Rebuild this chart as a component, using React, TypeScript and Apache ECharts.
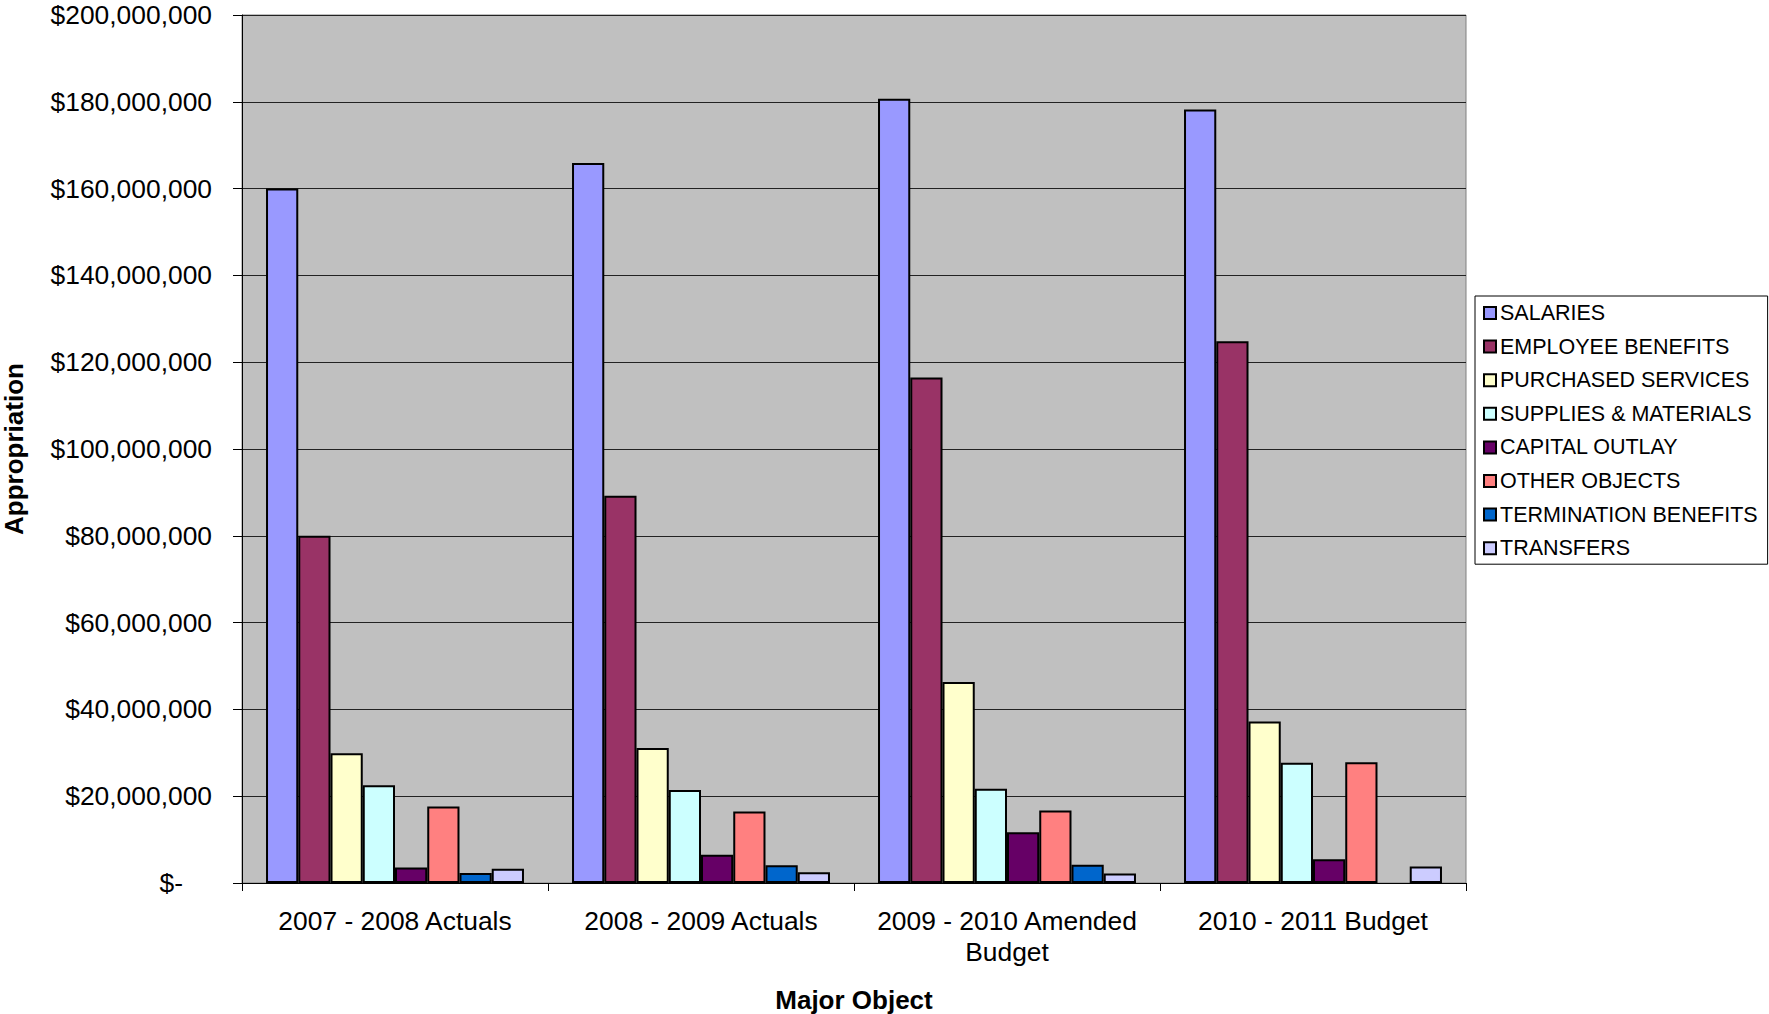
import React, { useEffect, useRef } from "react";
import * as echarts from "echarts";

const categories = [
  "2007 - 2008 Actuals",
  "2008 - 2009 Actuals",
  "2009 - 2010 Amended Budget",
  "2010 - 2011 Budget",
];

const seriesNames = [
  "SALARIES",
  "EMPLOYEE BENEFITS",
  "PURCHASED SERVICES",
  "SUPPLIES & MATERIALS",
  "CAPITAL OUTLAY",
  "OTHER OBJECTS",
  "TERMINATION BENEFITS",
  "TRANSFERS",
];

const salaries = [160000000, 165900000, 180700000, 178200000];
const employeeBenefits = [80000000, 89200000, 116500000, 124800000];
const purchasedServices = [29900000, 31100000, 46300000, 37200000];
const suppliesMaterials = [22500000, 21400000, 21700000, 27700000];
const capitalOutlay = [3600000, 6500000, 11700000, 5500000];
const otherObjects = [17600000, 16500000, 16700000, 27800000];
const terminationBenefits = [2300000, 4100000, 4200000, null];
const transfers = [3300000, 2500000, 2200000, 3800000];

const seriesValues = [
  salaries,
  employeeBenefits,
  purchasedServices,
  suppliesMaterials,
  capitalOutlay,
  otherObjects,
  terminationBenefits,
  transfers,
];

const colors = [
  "#9999FF",
  "#993366",
  "#FFFFCC",
  "#CCFFFF",
  "#660066",
  "#FF8080",
  "#0066CC",
  "#CCCCFF",
];

const yTicks = { min: 0, max: 200000000, interval: 20000000 };

const FONT = "'Liberation Sans', Arial, sans-serif";

export default function App() {
  const ref = useRef<HTMLDivElement>(null);

  useEffect(() => {
    if (!ref.current) return;
    const chart = echarts.init(ref.current, null, { renderer: "svg" });
    const option: any = {
      animation: false,
      backgroundColor: "#ffffff",
      textStyle: { fontFamily: FONT, color: "#000" },
      grid: {
        left: 242,
        top: 15,
        right: 303,
        bottom: 131,
        containLabel: false,
        outerBoundsMode: "none",
        show: true,
        backgroundColor: "#C0C0C0",
        borderColor: "#808080",
        borderWidth: 1,
      },
      legend: {
        orient: "vertical",
        left: 1475,
        top: 296,
        icon: "rect",
        itemWidth: 12,
        itemHeight: 12,
        itemGap: 11.6,
        padding: [6, 10, 5, 8],
        borderColor: "#000",
        borderWidth: 1,
        backgroundColor: "#fff",
        textStyle: {
          fontFamily: FONT,
          fontSize: 21.5,
          lineHeight: 21,
          color: "#000",
          padding: [0, 0, 0, -1],
        },
        data: seriesNames,
      },
      xAxis: {
        type: "category",
        data: categories,
        name: "Major Object",
        nameLocation: "middle",
        nameGap: 104,
        nameTextStyle: {
          fontFamily: FONT,
          fontSize: 26,
          fontWeight: "bold",
          color: "#000",
        },
        axisLine: { show: true, lineStyle: { color: "#000", width: 1 } },
        axisTick: { show: true, length: 8, lineStyle: { color: "#000" } },
        axisLabel: {
          fontFamily: FONT,
          fontSize: 26.4,
          lineHeight: 31,
          color: "#000",
          margin: 22,
          interval: 0,
          formatter: (v: string) => v.replace("Amended Budget", "Amended\nBudget"),
        },
        splitLine: { show: false },
      },
      yAxis: {
        type: "value",
        min: yTicks.min,
        max: yTicks.max,
        interval: yTicks.interval,
        name: "Appropriation",
        nameLocation: "middle",
        nameGap: 215,
        nameRotate: 90,
        nameTextStyle: {
          fontFamily: FONT,
          fontSize: 26,
          fontWeight: "bold",
          color: "#000",
        },
        axisLine: { show: true, lineStyle: { color: "#000", width: 1 } },
        axisTick: { show: true, length: 9, lineStyle: { color: "#000" } },
        axisLabel: {
          fontFamily: FONT,
          fontSize: 26.4,
          color: "#000",
          margin: 30,
          formatter: (v: number) =>
            v === 0 ? "{z|$-}" : "$" + v.toLocaleString("en-US"),
          rich: {
            z: { fontFamily: FONT, fontSize: 26.4, color: "#000", padding: [0, 29, 0, 0] },
          },
        },
        splitLine: { show: true, lineStyle: { color: "#222", width: 1 } },
      },
      series: seriesNames.map((name, i) => ({
        name,
        type: "bar",
        data: seriesValues[i],
        barGap: "0%",
        barCategoryGap: "15.7%",
        itemStyle: {
          color: colors[i],
          borderColor: "#000",
          borderWidth: 2,
        },
      })),
    };
    chart.setOption(option);
    return () => chart.dispose();
  }, []);

  return (
    <div
      ref={ref}
      style={{ position: "fixed", left: 0, top: 0, width: 1769, height: 1014 }}
    />
  );
}
